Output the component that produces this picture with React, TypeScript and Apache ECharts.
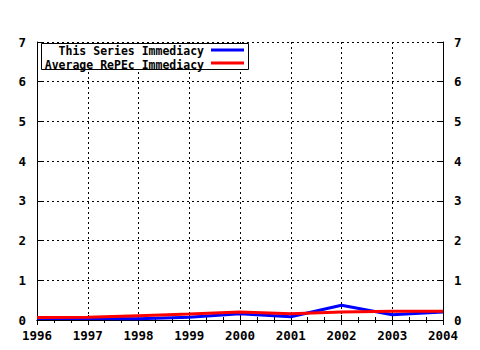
import React, { useEffect, useRef } from "react";
import * as echarts from "echarts";

const years = [1996, 1997, 1998, 1999, 2000, 2001, 2002, 2003, 2004];
const seriesImmediacy = [0.04, 0.04, 0.03, 0.07, 0.16, 0.08, 0.37, 0.13, 0.2];
const averageImmediacy = [0.06, 0.07, 0.11, 0.15, 0.2, 0.16, 0.2, 0.22, 0.22];
const yTicks = [0, 1, 2, 3, 4, 5, 6, 7];
const legendNames = ["This Series Immediacy", "Average RePEc Immediacy"];

const FONT = "'DejaVu Sans Mono', monospace";

export default function App() {
  const ref = useRef<HTMLDivElement>(null);
  useEffect(() => {
    const chart = echarts.init(ref.current!, null, { renderer: "svg" });
    const dotted = { show: true, lineStyle: { color: "#000", type: [2, 3], width: 1 } };
    const label = { color: "#000", fontFamily: FONT, fontWeight: "bold", fontSize: 12.5 };
    const xBase = {
      type: "value",
      min: 1996,
      max: 2004,
      interval: 1,
      axisLine: { show: true, lineStyle: { color: "#000", width: 1 } },
      axisTick: { show: true, inside: true, length: 5, lineStyle: { color: "#000" } },
      minorTick: { show: true, splitNumber: 3, length: 3, lineStyle: { color: "#000" } },
    };
    const yBase = {
      type: "value",
      min: 0,
      max: 7,
      interval: 1,
      axisLine: { show: true, lineStyle: { color: "#000", width: 1 } },
      axisTick: { show: true, inside: true, length: 5, lineStyle: { color: "#000" } },
    };
    const legendFont = `bold 11.5px ${FONT}`;
    chart.setOption({
      animation: false,
      backgroundColor: "#fff",
      grid: { left: 37, right: 37, top: 42, bottom: 30, show: false },
      xAxis: [
        {
          ...xBase,
          position: "bottom",
          splitLine: dotted,
          axisLabel: { ...label, margin: 9, formatter: (v: number) => String(v) },
        },
        {
          ...xBase,
          position: "top",
          splitLine: { show: false },
          axisLabel: { show: false },
        },
      ],
      yAxis: [
        {
          ...yBase,
          position: "left",
          splitLine: dotted,
          axisLabel: { ...label, margin: 11, formatter: (v: number) => (yTicks.includes(v) ? String(v) : "") },
        },
        {
          ...yBase,
          position: "right",
          splitLine: { show: false },
          axisLabel: { ...label, margin: 11, formatter: (v: number) => (yTicks.includes(v) ? String(v) : "") },
        },
      ],
      series: [
        {
          name: legendNames[0],
          type: "line",
          data: years.map((y, i) => [y, seriesImmediacy[i]]),
          showSymbol: false,
          lineStyle: { color: "#0000ff", width: 3 },
          itemStyle: { color: "#0000ff" },
        },
        {
          name: legendNames[1],
          type: "line",
          data: years.map((y, i) => [y, averageImmediacy[i]]),
          showSymbol: false,
          lineStyle: { color: "#ff0000", width: 3 },
          itemStyle: { color: "#ff0000" },
        },
      ],
      graphic: [
        {
          type: "rect",
          shape: { x: 41.5, y: 43.5, width: 207, height: 26 },
          style: { fill: "#fff", stroke: "#000", lineWidth: 1 },
          z: 100,
        },
        {
          type: "text",
          x: 204,
          y: 51,
          z: 101,
          style: { text: legendNames[0], fill: "#000", font: legendFont, align: "right", verticalAlign: "middle" },
        },
        {
          type: "text",
          x: 204,
          y: 64.5,
          z: 101,
          style: { text: legendNames[1], fill: "#000", font: legendFont, align: "right", verticalAlign: "middle" },
        },
        {
          type: "line",
          z: 101,
          shape: { x1: 211, y1: 50, x2: 244, y2: 50 },
          style: { stroke: "#0000ff", lineWidth: 3 },
        },
        {
          type: "line",
          z: 101,
          shape: { x1: 211, y1: 63, x2: 244, y2: 63 },
          style: { stroke: "#ff0000", lineWidth: 3 },
        },
      ],
    });
    return () => chart.dispose();
  }, []);
  return <div ref={ref} style={{ width: 480, height: 350, position: "absolute", left: 0, top: 0 }} />;
}
